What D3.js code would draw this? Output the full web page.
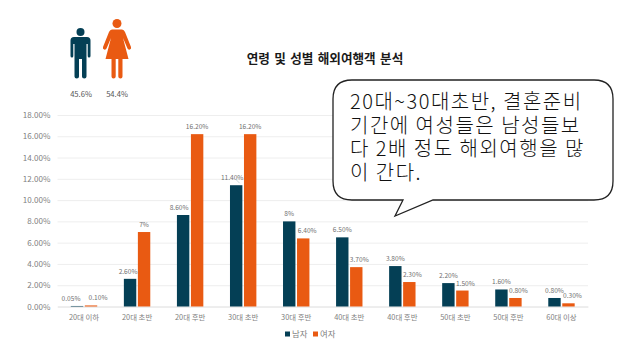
<!DOCTYPE html>
<html>
<head>
<meta charset="utf-8">
<script src="https://cdn.jsdelivr.net/npm/d3@7"></script>
<style>
  html, body { margin: 0; padding: 0; background: #fff; }
  svg { display: block; }
  text { font-family: "Noto Sans CJK KR", "Noto Sans", sans-serif; }
</style>
</head>
<body>
<svg></svg>
<script>
const categories = ['20대 이하', '20대 초반', '20대 후반', '30대 초반', '30대 후반', '40대 초반', '40대 후반', '50대 초반', '50대 후반', '60대 이상'];
const maleValues = [0.05, 2.6, 8.6, 11.4, 8, 6.5, 3.8, 2.2, 1.6, 0.8];
const femaleValues = [0.1, 7, 16.2, 16.2, 6.4, 3.7, 2.3, 1.5, 0.8, 0.3];
const maleLabels = ['0.05%', '2.60%', '8.60%', '11.40%', '8%', '6.50%', '3.80%', '2.20%', '1.60%', '0.80%'];
const femaleLabels = ['0.10%', '7%', '16.20%', '16.20%', '6.40%', '3.70%', '2.30%', '1.50%', '0.80%', '0.30%'];
const yTicks = [0, 2, 4, 6, 8, 10, 12, 14, 16, 18];
const seriesNames = ['남자', '여자'];
const genderShare = ['45.6%', '54.4%'];
const calloutLines = ['20대~30대초반, 결혼준비', '기간에 여성들은 남성들보', '다 2배 정도 해외여행을 많', '이 간다.'];

// hand placed label nudges, the original chart moved some of them
const maleNudge = [-6, -2, -4, -4, 0, 0, 0, 0, 0, 0];
const femaleNudge = [7, 0, 0, 0, 4, 3, 3, 3, 3, 4];

const width = 630;
const height = 354;
const navy = '#043f55';
const orange = '#e95a12';

const svg = d3.select('svg')
    .attr('width', width)
    .attr('height', height);

const x = d3.scaleBand()
    .domain(categories)
    .range([57.5, 588]);

const y = d3.scaleLinear()
    .domain([0, 18])
    .range([306.5, 115]);

// y axis, tick lines double as the grid
const yAxis = d3.axisLeft(y)
    .tickValues(yTicks)
    .tickFormat(d => d3.format('.2f')(d) + '%')
    .tickSize(-(588 - 57.5))
    .tickPadding(7);

const yG = svg.append('g')
    .attr('transform', 'translate(57.5,0)')
    .call(yAxis);
yG.select('.domain').remove();
yG.selectAll('line').attr('stroke', '#eeeeee');
yG.selectAll('text')
    .attr('fill', '#7f7f7f')
    .attr('font-size', 8.1);

const xAxis = d3.axisBottom(x).tickSize(0).tickPadding(8);
const xG = svg.append('g')
    .attr('transform', 'translate(0,306.5)')
    .call(xAxis);
xG.select('.domain').attr('stroke', '#e4e4e4');
xG.selectAll('text')
    .attr('fill', '#7f7f7f')
    .attr('font-size', 7.4);

// bars
const barW = 12.4;
const series = [
    {vals: maleValues, labels: maleLabels, nudge: maleNudge, color: navy, off: -7},
    {vals: femaleValues, labels: femaleLabels, nudge: femaleNudge, color: orange, off: 7}
];

series.forEach(s => {
    const cx = i => x(categories[i]) + x.bandwidth() / 2 + s.off;
    svg.append('g').selectAll('rect')
        .data(s.vals)
        .enter().append('rect')
            .attr('x', (d, i) => cx(i) - barW / 2)
            .attr('y', d => y(d))
            .attr('width', barW)
            .attr('height', d => y(0) - y(d))
            .attr('fill', s.color);
    svg.append('g').selectAll('text')
        .data(s.labels)
        .enter().append('text')
            .attr('x', (d, i) => cx(i) + s.nudge[i])
            .attr('y', (d, i) => y(s.vals[i]) - 5)
            .attr('text-anchor', 'middle')
            .attr('font-size', 6.6)
            .attr('fill', '#707070')
            .text(d => d);
});

// little leader line on the 11.40% label
svg.append('path')
    .attr('d', `M${x('30대 초반') + 19},${y(11.4) - 6}L${x('30대 초반') + 23},${y(11.4) - 2}`)
    .attr('stroke', '#b5c5cc')
    .attr('stroke-width', 0.7)
    .attr('fill', 'none');

// title
svg.append('text')
    .attr('x', 325)
    .attr('y', 63)
    .attr('text-anchor', 'middle')
    .attr('font-size', 12.6)
    .attr('font-weight', 700)
    .attr('word-spacing', 1.5)
    .attr('fill', '#1a1a1a')
    .text('연령 및 성별 해외여행객 분석');

// legend
const legendX = [285, 313];
seriesNames.forEach((name, i) => {
    svg.append('rect')
        .attr('x', legendX[i])
        .attr('y', 331.5)
        .attr('width', 5)
        .attr('height', 5)
        .attr('fill', i ? orange : navy);
    svg.append('text')
        .attr('x', legendX[i] + 7)
        .attr('y', 337)
        .attr('font-size', 8.4)
        .attr('fill', '#7f7f7f')
        .text(name);
});

// man and woman pictograms
const man = svg.append('g').attr('fill', navy);
man.append('circle').attr('cx', 80.5).attr('cy', 32).attr('r', 4);
man.append('path').attr('d', 'M74,37 H87 Q90.5,37 90.5,40.5 V56 Q90.5,57.5 89,57.5 Q87.7,57.5 87.7,56 V44 H86.5 V76.5 Q86.5,78.5 84.3,78.5 Q82,78.5 82,76.5 V59 H79 V76.5 Q79,78.5 76.8,78.5 Q74.5,78.5 74.5,76.5 V44 H73.3 V56 Q73.3,57.5 72,57.5 Q70.5,57.5 70.5,56 V40.5 Q70.5,37 74,37 Z');

const woman = svg.append('g').attr('fill', orange);
woman.append('circle').attr('cx', 117).attr('cy', 23.5).attr('r', 4.5);
woman.append('path').attr('d', 'M112,29.5 H122 Q124,29.5 125,32 L131,47 Q131.5,49 129.8,49.5 Q128.3,50 127.5,48.5 L123,38 L128.5,59 H122.5 V76.5 Q122.5,78.5 120.5,78.5 Q118.3,78.5 118.3,76.5 V59 H115.7 V76.5 Q115.7,78.5 113.5,78.5 Q111.5,78.5 111.5,76.5 V59 H105.5 L111,38 L106.5,48.5 Q105.7,50 104.2,49.5 Q102.5,49 103,47 L109,32 Q110,29.5 112,29.5 Z');

const shareX = [81, 117];
svg.append('g').selectAll('text')
    .data(genderShare)
    .enter().append('text')
        .attr('x', (d, i) => shareX[i])
        .attr('y', 97)
        .attr('text-anchor', 'middle')
        .attr('font-size', 7.6)
        .attr('fill', '#555')
        .text(d => d);

// speech bubble on top of the chart
svg.append('path')
    .attr('d', 'M352,80 H594 Q613,80 613,99 V181 Q613,200 594,200 H433 L395,216 L403,200 H352 Q333,200 333,181 V99 Q333,80 352,80 Z')
    .attr('fill', '#fff')
    .attr('stroke', '#222')
    .attr('stroke-width', 1.3);

svg.append('g').selectAll('text')
    .data(calloutLines)
    .enter().append('text')
        .attr('x', 350)
        .attr('y', (d, i) => 109 + i * 23.7)
        .attr('font-size', 20)
        .attr('font-weight', 300)
        .attr('letter-spacing', 1.5)
        .attr('fill', '#111')
        .text(d => d);
</script>
</body>
</html>
